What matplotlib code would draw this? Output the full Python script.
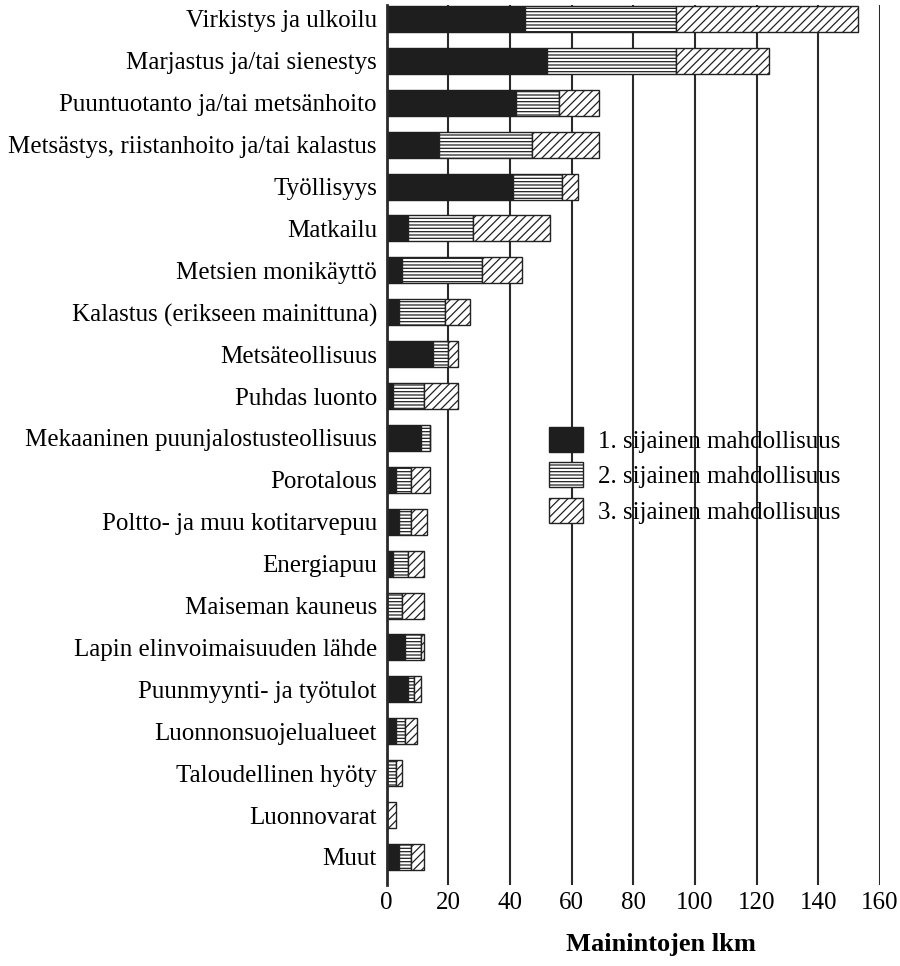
import numpy as np
import matplotlib
matplotlib.use("Agg")
import matplotlib.pyplot as plt

plt.rcParams['font.family'] = ['Liberation Serif', 'DejaVu Serif']
plt.rcParams['hatch.linewidth'] = 0.9
plt.rcParams['hatch.color'] = '#222222'

# === DATA ===
categories = [
    "Virkistys ja ulkoilu",
    "Marjastus ja/tai sienestys",
    "Puuntuotanto ja/tai metsänhoito",
    "Metsästys, riistanhoito ja/tai kalastus",
    "Työllisyys",
    "Matkailu",
    "Metsien monikäyttö",
    "Kalastus (erikseen mainittuna)",
    "Metsäteollisuus",
    "Puhdas luonto",
    "Mekaaninen puunjalostusteollisuus",
    "Porotalous",
    "Poltto- ja muu kotitarvepuu",
    "Energiapuu",
    "Maiseman kauneus",
    "Lapin elinvoimaisuuden lähde",
    "Puunmyynti- ja työtulot",
    "Luonnonsuojelualueet",
    "Taloudellinen hyöty",
    "Luonnovarat",
    "Muut",
]
first = [45, 52, 42, 17, 41, 7, 5, 4, 15, 2, 11, 3, 4, 2, 0, 6, 7, 3, 0, 0, 4]
second = [49, 42, 14, 30, 16, 21, 26, 15, 5, 10, 3, 5, 4, 5, 5, 5, 2, 3, 3, 0, 4]
third = [59, 30, 13, 22, 5, 25, 13, 8, 3, 11, 0, 6, 5, 5, 7, 1, 2, 4, 2, 3, 4]

series_labels = ["1. sijainen mahdollisuus",
                 "2. sijainen mahdollisuus",
                 "3. sijainen mahdollisuus"]
x_ticks = [0, 20, 40, 60, 80, 100, 120, 140, 160]

fig = plt.figure(figsize=(9, 9.66), dpi=100)
W, H = 900, 966
ax = fig.add_axes([386.6 / W, (H - 885) / H, (880 - 386.6) / W, (885 - 5) / H])

y = np.arange(len(categories))
first = np.array(first)
second = np.array(second)
third = np.array(third)
bh = 0.62

# pinotut palkit
ax.barh(y, first, height=bh, color='#1e1e1e', edgecolor='#1e1e1e',
        linewidth=1, label=series_labels[0], zorder=3)
ax.barh(y, second, left=first, height=bh, color='white', edgecolor='#222222',
        hatch='-----', linewidth=1, label=series_labels[1], zorder=3)
ax.barh(y, third, left=first + second, height=bh, color='white', edgecolor='#222222',
        hatch='////', linewidth=1, label=series_labels[2], zorder=3)

ax.set_xlim(0, 160)
ax.set_ylim(20.67, -0.334)

ax.set_xticks(x_ticks)
ax.set_xticklabels([str(t) for t in x_ticks], fontsize=18)
ax.set_yticks(y)
ax.set_yticklabels(categories, fontsize=18)
ax.tick_params(axis='both', length=0)
ax.tick_params(axis='x', pad=5)
ax.tick_params(axis='y', pad=7)

for t in x_ticks[1:]:
    ax.axvline(t, color='#2a2a2a', linewidth=1.5, zorder=1)

for s in ['top', 'right', 'bottom']:
    ax.spines[s].set_visible(False)
ax.spines['left'].set_linewidth(2)
ax.spines['left'].set_color('#2a2a2a')
ax.spines['left'].set_zorder(4)

fig.text(661 / W, 1 - 945 / H, "Mainintojen lkm", fontsize=19,
         fontweight='bold', ha='center', va='center')

leg = ax.legend(loc='upper left', bbox_to_anchor=(549 / W, 1 - 427 / H),
                bbox_transform=fig.transFigure, frameon=False, fontsize=18,
                handlelength=1.35, handleheight=1.15, handletextpad=0.6,
                labelspacing=0.38, borderpad=0, borderaxespad=0)

fig.savefig("out.png", dpi=100)
